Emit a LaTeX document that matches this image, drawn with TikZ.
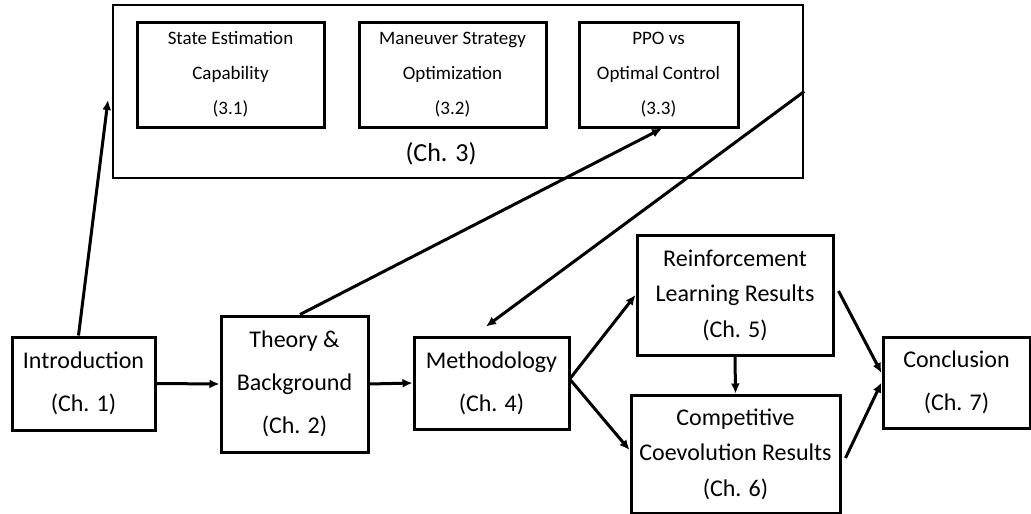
\documentclass[tikz,border=0pt]{standalone}
\usepackage{fontspec}
\setmainfont{Carlito}
\usetikzlibrary{arrows.meta}
\begin{document}
\begin{tikzpicture}[x=1pt,y=-1pt,
  box/.style={draw, line width=3pt, align=center, inner sep=0pt},
  bigtxt/.style={font=\fontsize{24}{43}\selectfont},
  midtxt/.style={font=\fontsize{24}{35.5}\selectfont},
  smalltxt/.style={font=\fontsize{19}{35}\selectfont},
  arr/.style={line width=3pt, -{Latex[length=10pt,width=9pt]}}
]
\useasboundingbox (0,0) rectangle (1031,514);
% Chapter 3 container
\node[draw, line width=2.4pt, minimum width=690pt, minimum height=173pt, inner sep=0pt] (ch3) at (458,91.5) {};
\node[font=\fontsize{26}{30}\selectfont] (ch3lbl) at (441,154) {(Ch. 3)};
\node[box, smalltxt, minimum width=187pt, minimum height=105pt] (s31) at (230.5,74.5) {State Estimation\\Capability\\(3.1)};
\node[box, smalltxt, minimum width=187pt, minimum height=105pt] (s32) at (452.5,74.5) {Maneuver Strategy\\Optimization\\(3.2)};
\node[box, smalltxt, minimum width=159pt, minimum height=105pt] (s33) at (658.5,74.5) {PPO vs\\Optimal Control\\(3.3)};
% main chain
\node[box, bigtxt, minimum width=143pt, minimum height=93pt] (intro) at (83.5,383.5) {Introduction\\(Ch. 1)};
\node[box, bigtxt, minimum width=147pt, minimum height=136pt] (theory) at (294.5,384) {Theory \&\\Background\\(Ch. 2)};
\node[box, bigtxt, minimum width=155pt, minimum height=92pt] (method) at (491.5,383) {Methodology\\(Ch. 4)};
\node[box, midtxt, minimum width=196pt, minimum height=120pt] (rl) at (735,295) {Reinforcement\\Learning Results\\(Ch. 5)};
\node[box, midtxt, minimum width=209pt, minimum height=118pt] (cc) at (735.5,454) {Competitive\\Coevolution Results\\(Ch. 6)};
\node[box, bigtxt, minimum width=147pt, minimum height=91pt] (concl) at (956.5,382.5) {Conclusion\\(Ch. 7)};
\coordinate (c3in) at (108,100);
% connectors
\draw[arr] ([xshift=-5pt]intro.north) -- (c3in);
\draw[arr] (intro.east) -- (theory.west);
\draw[arr] (theory.east) -- (method.west);
\draw[arr] ([xshift=5.5pt]theory.north) -- ([xshift=3.5pt]s33.south);
\draw[arr] (ch3.east) -- ([xshift=-5.5pt,yshift=9pt]method.north);
\draw[arr] ([yshift=5pt]method.east) -- (rl.west);
\draw[arr] ([yshift=3pt]method.east) -- ([yshift=4pt]cc.west);
\draw[arr] (rl.south) -- (cc.north);
\draw[arr] ([xshift=4pt,yshift=4pt]rl.east) -- ([yshift=9.5pt]concl.west);
\draw[arr] ([xshift=4pt,yshift=-4pt]cc.east) -- (concl.west);
\end{tikzpicture}
\end{document}
